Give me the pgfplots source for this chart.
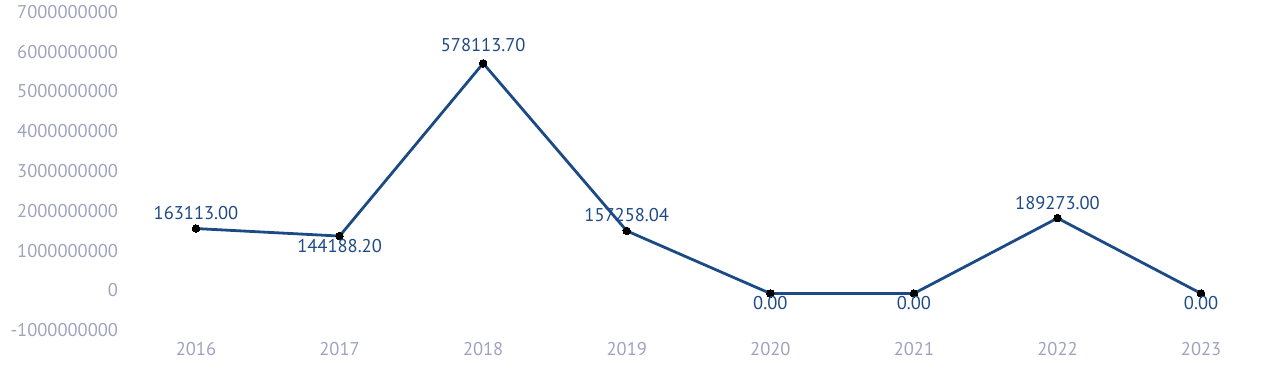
\documentclass[border=0pt]{standalone}
\usepackage{pgfplots}
\pgfplotsset{compat=1.18}
\usepackage{pgfplotstable}
\usepackage{fontspec}
\setmainfont{PT Sans}
\definecolor{lineblue}{HTML}{1C4A85}
\definecolor{labelblue}{HTML}{1F4A85}
\definecolor{tickgray}{HTML}{9EA3BE}
\pgfplotstableread{
x y label off
0 1631130000 163113.00 16
1 1441882000 144188.20 -10
2 5781137000 578113.70 18
3 1572580400 157258.04 16
4 0 0.00 -10
5 0 0.00 -10
6 1892730000 189273.00 15
7 0 0.00 -10
}\datatable
\begin{document}
\begin{tikzpicture}
\begin{axis}[
  at={(124.2pt,48.7pt)}, anchor=south west,
  scale only axis,
  width=1148.8pt, height=318.5pt,
  xmin=-0.5, xmax=7.5,
  ymin=-1000000000, ymax=7000000000,
  scaled y ticks=false,
  xtick={0,...,7},
  xticklabels={2016,2017,2018,2019,2020,2021,2022,2023},
  ytick={-1000000000,0,1000000000,2000000000,3000000000,4000000000,5000000000,6000000000,7000000000},
  yticklabels={-1000000000,0,1000000000,2000000000,3000000000,4000000000,5000000000,6000000000,7000000000},
  axis line style={draw=none},
  major tick length=0pt,
  tick style={draw=none},
  xticklabel style={font=\fontsize{18.5}{22}\selectfont, text=tickgray, anchor=center, yshift=-16pt, inner sep=0pt},
  yticklabel style={font=\fontsize{18.5}{22}\selectfont, text=tickgray, anchor=east, xshift=-6pt, yshift=3pt, inner sep=0pt},
  clip=false,
]
\addplot[
  color=lineblue, line width=2.8pt,
  mark=*, mark size=3.8pt, mark options={fill=black, draw=black, line width=0pt},
  point meta=explicit symbolic,
  visualization depends on={\thisrow{off} \as \off},
  nodes near coords={\pgfplotspointmeta},
  nodes near coords style={anchor=center, yshift=\off pt, font=\fontsize{18.5}{22}\selectfont, text=labelblue, inner sep=0pt},
] table[x=x, y=y, meta=label] {\datatable};
\end{axis}
\pgfresetboundingbox
\path[use as bounding box] (0,0) rectangle (1280pt,382pt);
\end{tikzpicture}
\end{document}
